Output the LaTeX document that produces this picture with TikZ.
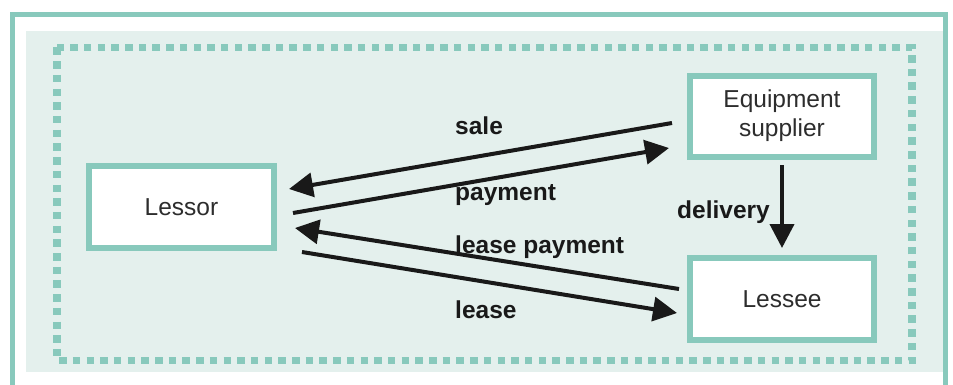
\documentclass[tikz,border=0pt]{standalone}
\usepackage{fontspec}
\setmainfont{Liberation Sans}
\usetikzlibrary{arrows.meta}
\definecolor{teal1}{RGB}{136,201,188}
\definecolor{paleteal}{RGB}{228,240,237}
\definecolor{txtgray}{RGB}{45,45,45}
\definecolor{arrowblack}{RGB}{25,25,25}
\tikzset{
  entity/.style={draw=teal1, line width=6pt, fill=white, inner sep=0pt,
    text=txtgray, align=center, font=\fontsize{24.5}{29}\selectfont},
  flow/.style={draw=arrowblack, line width=4pt, -{Triangle[length=24pt,width=24pt]}},
  flowlabel/.style={anchor=base west, inner sep=0pt, text=arrowblack,
    font=\fontsize{24.5}{29}\selectfont\bfseries}
}
\begin{document}
\begin{tikzpicture}[x=1pt,y=-1pt]
\useasboundingbox (0,0) rectangle (953,385);
% background fill
\fill[paleteal] (26,31) rectangle (943,372);
% outer frame (open at bottom)
\draw[teal1, line width=5pt] (12.5,385) -- (12.5,15) -- (945.5,15) -- (945.5,385);
% dotted frame
\draw[teal1, line width=7.5pt, dash pattern=on 7.5pt off 6.2pt] (57,47.5) rectangle (912,360.5);
% nodes
\node[entity, minimum width=185pt, minimum height=82pt] (lessor) at (181.5,207) {Lessor};
\node[entity, minimum width=184pt, minimum height=81pt] (supplier) at (782,116.5)
  {\raisebox{-4pt}{\begin{tabular}{@{}c@{}}Equipment\\supplier\end{tabular}}};
\node[entity, minimum width=184pt, minimum height=82pt] (lessee) at (782,299) {Lessee};
% connector end points
\coordinate (saleS) at (672,123);
\coordinate (saleE) at (289,189);
\coordinate (payS) at (293,213);
\coordinate (payE) at (669,148);
\coordinate (lpS) at (679,289);
\coordinate (lpE) at (295,228);
\coordinate (leaseS) at (302,252);
\coordinate (leaseE) at (677,313);
% connectors
\draw[flow] (saleS) -- (saleE);
\draw[flow] (payS) -- (payE);
\draw[flow] (lpS) -- (lpE);
\draw[flow] (leaseS) -- (leaseE);
\draw[flow, shorten <=5pt, shorten >=7pt] (supplier.south) -- (lessee.north);
% labels
\node[flowlabel] (lsale) at (455,135) {sale};
\node[flowlabel] (lpay) at (455,200) {payment};
\node[flowlabel] (llp) at (455,253) {lease payment};
\node[flowlabel] (llease) at (455,318) {lease};
\node[flowlabel] (ldel) at (677,218) {delivery};
\end{tikzpicture}
\end{document}
